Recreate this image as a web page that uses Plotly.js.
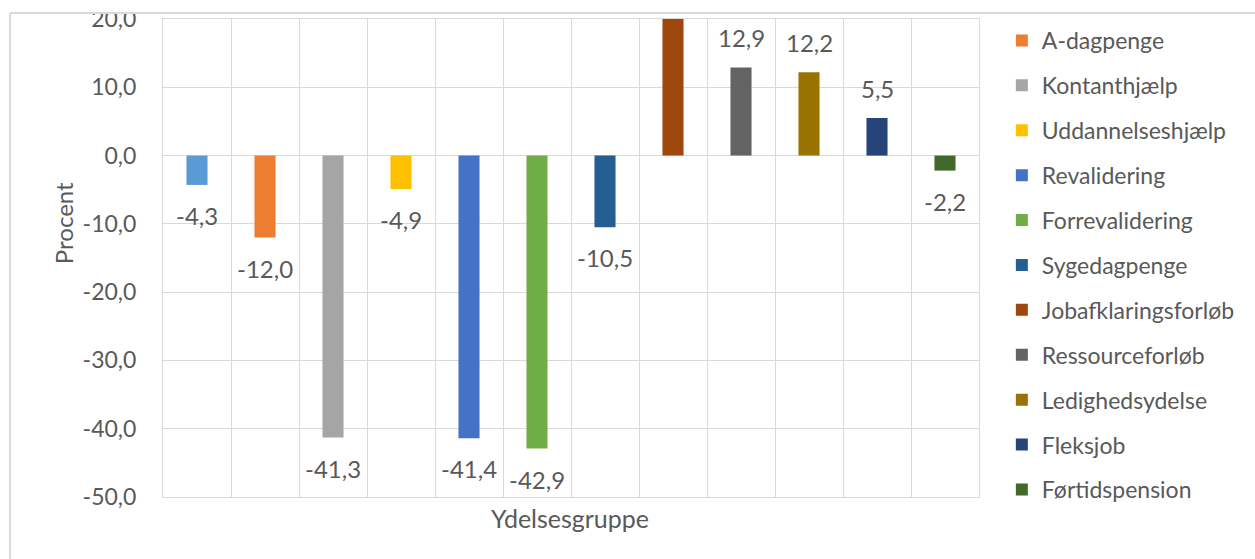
<!DOCTYPE html>
<html><head><meta charset="utf-8">
<script src="https://cdn.plot.ly/plotly-3.0.1.min.js"></script>
<style>html,body{margin:0;padding:0;background:#fff}#chart{width:1255px;height:559px}</style>
</head><body><div id="chart"></div>
<script>
// Data
const groups = ["I alt", "A-dagpenge", "Kontanthjælp", "Uddannelseshjælp", "Revalidering", "Forrevalidering",
  "Sygedagpenge", "Jobafklaringsforløb", "Ressourceforløb", "Ledighedsydelse", "Fleksjob", "Førtidspension"];
const values = [-4.3, -12.0, -41.3, -4.9, -41.4, -42.9, -10.5, 26.0, 12.9, 12.2, 5.5, -2.2];
const colors = ["#5B9BD5", "#ED7D31", "#A5A5A5", "#FFC000", "#4472C4", "#70AD47",
  "#255E91", "#9E480E", "#636363", "#997300", "#264478", "#43682B"];
const inLegend = [false, true, true, true, true, true, true, true, true, true, true, true];
const yTicks = [-50, -40, -30, -20, -10, 0, 10, 20];
const yMin = -50, yMax = 20;

const FONT = 'Lato, "Open Sans", sans-serif';
const TXT = '#595959';
const GRID = '#D9D9D9';

const fmt = v => v.toFixed(1).replace('.', ',');

const traces = groups.map((g, i) => ({
  type: 'bar', x: [g], y: [values[i]], name: g,
  marker: {color: colors[i]}, width: 0.31,
  showlegend: inLegend[i], legendgroup: 'g' + i,
  hoverinfo: 'none', cliponaxis: true
}));

const labelAnns = [];
groups.forEach((g, i) => {
  const v = values[i];
  if (v > yMax || v < yMin) return;
  labelAnns.push({
    x: g, y: v, xref: 'x', yref: 'y', text: fmt(v), showarrow: false,
    xanchor: 'center', yanchor: v >= 0 ? 'bottom' : 'top',
    yshift: v >= 0 ? 13 : -14,
    font: {family: FONT, size: 24, color: TXT}
  });
});

const layout = {
  width: 1255, height: 559,
  margin: {l: 163, r: 276, t: 19, b: 62},
  paper_bgcolor: '#fff', plot_bgcolor: '#fff',
  separators: ',.',
  barmode: 'overlay',
  font: {family: FONT, color: TXT},
  showlegend: true,
  xaxis: {
    type: 'category', categoryorder: 'array', categoryarray: groups,
    range: [-0.5, groups.length - 0.5],
    showticklabels: false, tickson: 'boundaries', ticks: '',
    showgrid: true, gridcolor: GRID, gridwidth: 1,
    showline: true, mirror: true, linecolor: GRID, linewidth: 1,
    zeroline: false, fixedrange: true
  },
  yaxis: {
    range: [yMin, yMax], tickmode: 'array', tickvals: yTicks, ticktext: yTicks.map(fmt),
    showgrid: true, gridcolor: GRID, gridwidth: 1,
    showline: true, mirror: true, linecolor: GRID, linewidth: 1,
    zeroline: false, ticks: '', ticklabelstandoff: 21,
    tickfont: {family: FONT, size: 23, color: TXT}, fixedrange: true
  },
  legend: {
    x: 1.028, xanchor: 'left', y: 1.0, yanchor: 'top',
    traceorder: 'grouped', tracegroupgap: 12, maxheight: 600,
    font: {family: FONT, size: 23, color: TXT},
    bgcolor: 'rgba(0,0,0,0)', borderwidth: 0
  },
  annotations: labelAnns.concat([
    {text: 'Procent', xref: 'paper', yref: 'paper', x: -0.1225, y: 0.573,
     textangle: -90, showarrow: false, xanchor: 'center', yanchor: 'middle',
     font: {family: FONT, size: 24, color: TXT}},
    {text: 'Ydelsesgruppe', xref: 'paper', yref: 'paper', x: 0.499, y: -0.044,
     showarrow: false, xanchor: 'center', yanchor: 'middle',
     font: {family: FONT, size: 25, color: TXT}}
  ]),
  shapes: [
    {type: 'rect', xref: 'paper', yref: 'paper', x0: -0.3, x1: 1.4, y0: 1.0126, y1: 1.06,
     fillcolor: '#fff', line: {width: 0}, layer: 'above'},
    {type: 'line', xref: 'paper', yref: 'paper', x0: -0.1875, x1: 1.4, y0: 1.0126, y1: 1.0126,
     line: {color: GRID, width: 2}, layer: 'above'},
    {type: 'line', xref: 'paper', yref: 'paper', x0: -0.1875, x1: -0.1875, y0: 1.0126, y1: -0.2,
     line: {color: GRID, width: 2}, layer: 'above'}
  ]
};

Plotly.newPlot('chart', traces, layout, {displayModeBar: false, staticPlot: true});
</script>
</body></html>
